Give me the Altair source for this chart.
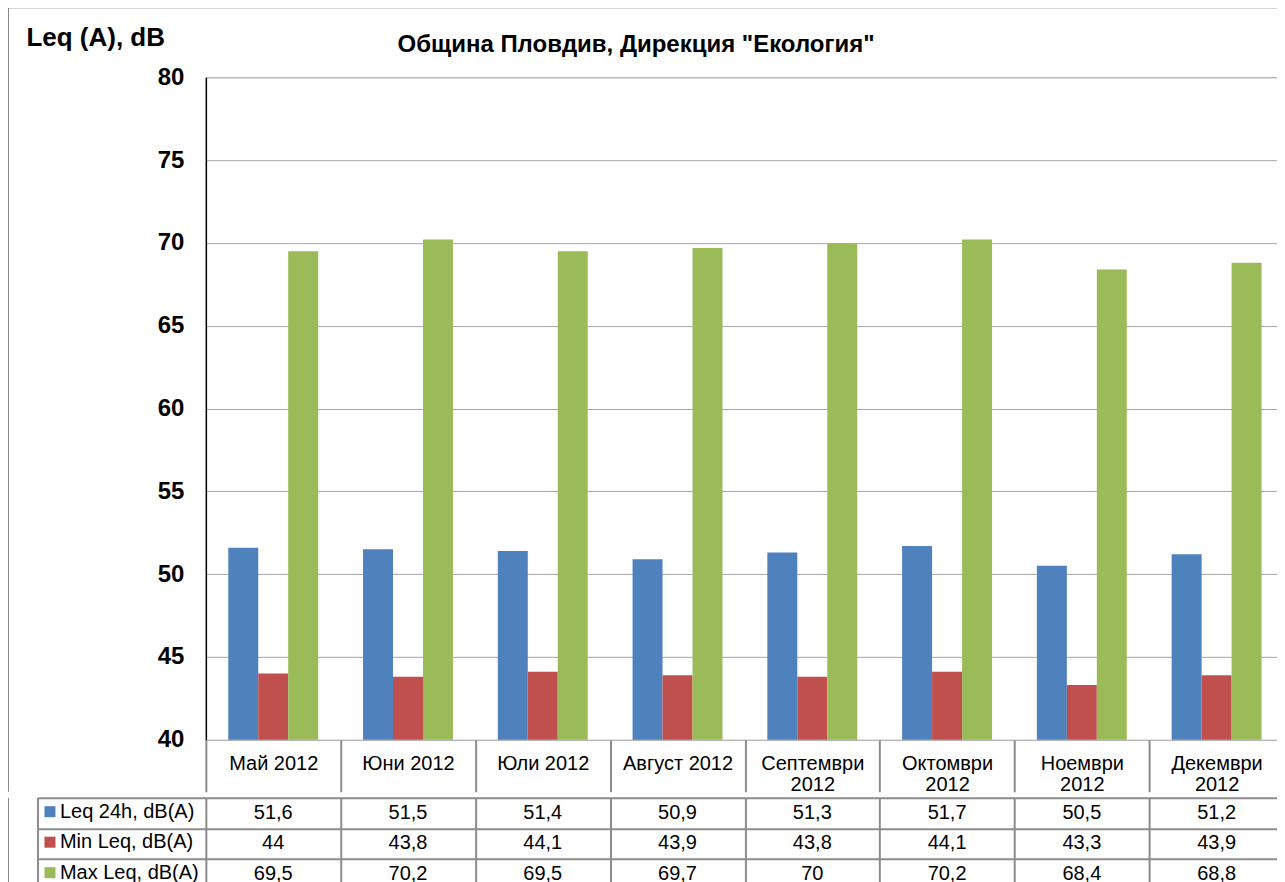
import altair as alt
import pandas as pd

# ---------------- data ----------------
months = ["Май 2012", "Юни 2012", "Юли 2012", "Август 2012",
          "Септември 2012", "Октомври 2012", "Ноември 2012", "Декември 2012"]
series = ["Leq 24h, dB(A)", "Min Leq, dB(A)", "Max Leq, dB(A)"]
leq_24h = [51.6, 51.5, 51.4, 50.9, 51.3, 51.7, 50.5, 51.2]
min_leq = [44, 43.8, 44.1, 43.9, 43.8, 44.1, 43.3, 43.9]
max_leq = [69.5, 70.2, 69.5, 69.7, 70, 70.2, 68.4, 68.8]
colors = ["#4F81BD", "#C0504D", "#9BBB59"]
y_ticks = [40, 45, 50, 55, 60, 65, 70, 75, 80]
title_text = 'Община Пловдив, Дирекция "Екология"'
y_title = "Leq (A), dB"

rows = []
for s, vals in zip(series, [leq_24h, min_leq, max_leq]):
    for m, v in zip(months, vals):
        rows.append({"month": m, "series": s, "value": v,
                     "label": f"{v:g}".replace(".", ",")})
df = pd.DataFrame(rows)

# ---------------- style ----------------
FONT = "Liberation Sans"
W, H = 1079, 663
HEADER = 52
ROW = 30.5
LEFT = 198
TOP = 70
LEGEND_COL = 168
TBL = "#8c8c8c"
GRID = "#a6a6a6"

x_scale = alt.Scale(domain=months, paddingInner=0, paddingOuter=0)

bars = alt.Chart(df).mark_bar(clip=True).encode(
    x=alt.X("month:N", sort=months, scale=x_scale,
            axis=alt.Axis(orient="bottom", domain=False, ticks=True, tickBand="extent",
                          tickSize=HEADER, tickColor=TBL, tickWidth=2,
                          labelAngle=0, labelFont=FONT, labelFontSize=20, labelColor="black",
                          labelPadding=-28, labelBaseline="middle", labelLineHeight=21,
                          labelLimit=0, labelOverlap=False,
                          labelExpr="length(datum.label) > 11 ? split(datum.label, ' ') : datum.label",
                          title=title_text, titleX=636 - 206, titleY=-689,
                          titleAlign="center", titleBaseline="alphabetic", titleAngle=0,
                          titleFont=FONT, titleFontSize=24, titleFontWeight="bold",
                          titleColor="black")),
    xOffset=alt.XOffset("series:N", sort=series,
                        scale=alt.Scale(domain=series, paddingInner=0, paddingOuter=0.748)),
    y=alt.Y("value:Q", scale=alt.Scale(domain=[40, 80], zero=False, nice=False),
            axis=alt.Axis(values=y_ticks, title=y_title, titleAngle=0, titleX=27 - 207,
                          titleY=46 - 78, titleAlign="left", titleBaseline="alphabetic",
                          titleFont=FONT, titleFontSize=26, titleFontWeight="bold",
                          titleColor="black",
                          labelFont=FONT, labelFontSize=24, labelFontWeight="bold",
                          labelColor="black", labelPadding=22, ticks=False,
                          domainColor="#000000", domainWidth=1.5,
                          grid=True, gridColor=GRID, gridWidth=1)),
    color=alt.Color("series:N", sort=series, scale=alt.Scale(domain=series, range=colors),
                    legend=alt.Legend(title=None, orient="none", legendX=-166, legendY=725,
                                      direction="vertical", symbolType="square",
                                      symbolSize=121, symbolStrokeWidth=0, symbolOpacity=1,
                                      labelFont=FONT, labelFontSize=20, labelColor="black",
                                      rowPadding=10.5, padding=0, labelOffset=0, labelLimit=0)),
)

border_src = pd.DataFrame({"k": [0]})
top_border = alt.Chart(border_src).mark_rule(color="#868686", strokeWidth=1).encode(
    x=alt.value(-LEFT + 0.5), x2=alt.value(W), y=alt.value(-TOP + 0.5))
left_border_top = alt.Chart(border_src).mark_rule(color="#868686", strokeWidth=1).encode(
    x=alt.value(-LEFT + 0.5), y=alt.value(-TOP + 0.5), y2=alt.value(H + HEADER))

top_chart = alt.layer(bars, top_border, left_border_top).properties(width=W, height=H)

table_text = alt.Chart(df).mark_text(font=FONT, fontSize=20, color="black").encode(
    x=alt.X("month:N", sort=months, scale=x_scale, title=None,
            axis=alt.Axis(orient="top", grid=True, tickBand="extent", labels=False, ticks=False,
                          domain=False, gridColor=TBL, gridWidth=2)),
    y=alt.Y("series:N", sort=series, scale=alt.Scale(domain=series, paddingInner=0, paddingOuter=0),
            title=None,
            axis=alt.Axis(orient="left", grid=True, tickBand="extent", labels=False, ticks=True,
                          tickSize=LEGEND_COL, tickColor=TBL, tickWidth=2, domain=False,
                          gridColor=TBL, gridWidth=2)),
    text="label:N",
)
legend_left = alt.Chart(border_src).mark_rule(color=TBL, strokeWidth=2).encode(
    x=alt.value(-LEGEND_COL), y=alt.value(0), y2=alt.value(3 * ROW))
left_border_bottom = alt.Chart(border_src).mark_rule(color="#868686", strokeWidth=1).encode(
    x=alt.value(-LEFT + 0.5), y=alt.value(0), y2=alt.value(3 * ROW))

bottom_chart = alt.layer(table_text, legend_left, left_border_bottom).properties(
    width=W, height=3 * ROW)

chart = alt.vconcat(top_chart, bottom_chart, spacing=0).resolve_scale(
    x="independent", y="independent", color="shared"
).properties(
    padding={"left": -1, "top": -2, "right": -9, "bottom": -5}
).configure_view(stroke="#868686", strokeWidth=2).configure(background="white")

chart.save("out.html", embed_options={"renderer": "svg", "actions": False})
